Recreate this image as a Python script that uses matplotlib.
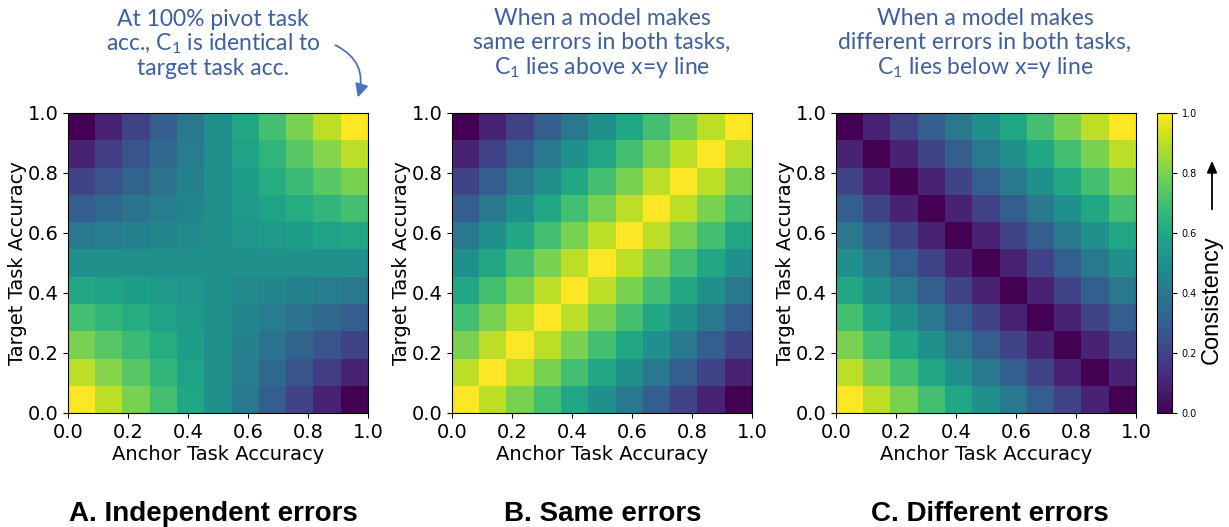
import matplotlib
matplotlib.use("Agg")
import matplotlib.pyplot as plt
import numpy as np

plt.rcParams['mathtext.fontset'] = 'custom'
plt.rcParams['mathtext.rm'] = 'Lato'
plt.rcParams['mathtext.it'] = 'Lato'

# rows: target task accuracy 0.0 -> 1.0, columns: anchor task accuracy 0.0 -> 1.0
independent = [
    [1.00, 0.90, 0.80, 0.70, 0.60, 0.50, 0.40, 0.30, 0.20, 0.10, 0.00],
    [0.90, 0.82, 0.74, 0.66, 0.58, 0.50, 0.42, 0.34, 0.26, 0.18, 0.10],
    [0.80, 0.74, 0.68, 0.62, 0.56, 0.50, 0.44, 0.38, 0.32, 0.26, 0.20],
    [0.70, 0.66, 0.62, 0.58, 0.54, 0.50, 0.46, 0.42, 0.38, 0.34, 0.30],
    [0.60, 0.58, 0.56, 0.54, 0.52, 0.50, 0.48, 0.46, 0.44, 0.42, 0.40],
    [0.50, 0.50, 0.50, 0.50, 0.50, 0.50, 0.50, 0.50, 0.50, 0.50, 0.50],
    [0.40, 0.42, 0.44, 0.46, 0.48, 0.50, 0.52, 0.54, 0.56, 0.58, 0.60],
    [0.30, 0.34, 0.38, 0.42, 0.46, 0.50, 0.54, 0.58, 0.62, 0.66, 0.70],
    [0.20, 0.26, 0.32, 0.38, 0.44, 0.50, 0.56, 0.62, 0.68, 0.74, 0.80],
    [0.10, 0.18, 0.26, 0.34, 0.42, 0.50, 0.58, 0.66, 0.74, 0.82, 0.90],
    [0.00, 0.10, 0.20, 0.30, 0.40, 0.50, 0.60, 0.70, 0.80, 0.90, 1.00],
]

same = [
    [1.0, 0.9, 0.8, 0.7, 0.6, 0.5, 0.4, 0.3, 0.2, 0.1, 0.0],
    [0.9, 1.0, 0.9, 0.8, 0.7, 0.6, 0.5, 0.4, 0.3, 0.2, 0.1],
    [0.8, 0.9, 1.0, 0.9, 0.8, 0.7, 0.6, 0.5, 0.4, 0.3, 0.2],
    [0.7, 0.8, 0.9, 1.0, 0.9, 0.8, 0.7, 0.6, 0.5, 0.4, 0.3],
    [0.6, 0.7, 0.8, 0.9, 1.0, 0.9, 0.8, 0.7, 0.6, 0.5, 0.4],
    [0.5, 0.6, 0.7, 0.8, 0.9, 1.0, 0.9, 0.8, 0.7, 0.6, 0.5],
    [0.4, 0.5, 0.6, 0.7, 0.8, 0.9, 1.0, 0.9, 0.8, 0.7, 0.6],
    [0.3, 0.4, 0.5, 0.6, 0.7, 0.8, 0.9, 1.0, 0.9, 0.8, 0.7],
    [0.2, 0.3, 0.4, 0.5, 0.6, 0.7, 0.8, 0.9, 1.0, 0.9, 0.8],
    [0.1, 0.2, 0.3, 0.4, 0.5, 0.6, 0.7, 0.8, 0.9, 1.0, 0.9],
    [0.0, 0.1, 0.2, 0.3, 0.4, 0.5, 0.6, 0.7, 0.8, 0.9, 1.0],
]

different = [
    [1.0, 0.9, 0.8, 0.7, 0.6, 0.5, 0.4, 0.3, 0.2, 0.1, 0.0],
    [0.9, 0.8, 0.7, 0.6, 0.5, 0.4, 0.3, 0.2, 0.1, 0.0, 0.1],
    [0.8, 0.7, 0.6, 0.5, 0.4, 0.3, 0.2, 0.1, 0.0, 0.1, 0.2],
    [0.7, 0.6, 0.5, 0.4, 0.3, 0.2, 0.1, 0.0, 0.1, 0.2, 0.3],
    [0.6, 0.5, 0.4, 0.3, 0.2, 0.1, 0.0, 0.1, 0.2, 0.3, 0.4],
    [0.5, 0.4, 0.3, 0.2, 0.1, 0.0, 0.1, 0.2, 0.3, 0.4, 0.5],
    [0.4, 0.3, 0.2, 0.1, 0.0, 0.1, 0.2, 0.3, 0.4, 0.5, 0.6],
    [0.3, 0.2, 0.1, 0.0, 0.1, 0.2, 0.3, 0.4, 0.5, 0.6, 0.7],
    [0.2, 0.1, 0.0, 0.1, 0.2, 0.3, 0.4, 0.5, 0.6, 0.7, 0.8],
    [0.1, 0.0, 0.1, 0.2, 0.3, 0.4, 0.5, 0.6, 0.7, 0.8, 0.9],
    [0.0, 0.1, 0.2, 0.3, 0.4, 0.5, 0.6, 0.7, 0.8, 0.9, 1.0],
]

notes = [
    "At 100% pivot task\nacc., C$_1$ is identical to\ntarget task acc.",
    "When a model makes\nsame errors in both tasks,\nC$_1$ lies above x=y line",
    "When a model makes\ndifferent errors in both tasks,\nC$_1$ lies below x=y line",
]
titles = ["A. Independent errors", "B. Same errors", "C. Different errors"]
ticks = [0.0, 0.2, 0.4, 0.6, 0.8, 1.0]

W, H = 1229, 527
fig = plt.figure(figsize=(W / 100, H / 100), dpi=100)

lefts = [68, 452, 836]
note_x = [213, 602, 985]
title_x = [213, 603, 990]
blue = '#3d5fa6'

for k, data in enumerate([independent, same, different]):
    ax = fig.add_axes([lefts[k] / W, (H - 413) / H, 300 / W, 300 / H])
    im = ax.imshow(np.array(data), cmap='viridis', origin='lower',
                   extent=[0, 1, 0, 1], vmin=0, vmax=1, aspect='auto')
    ax.set_xticks(ticks)
    ax.set_yticks(ticks)
    ax.tick_params(labelsize=14)
    ax.set_xlabel('Anchor Task Accuracy', fontsize=14, labelpad=2)
    ax.set_ylabel('Target Task Accuracy', fontsize=14, labelpad=0)
    fig.text(note_x[k] / W, 1 - 44 / H, notes[k], ha='center', va='center',
             fontsize=16.5, color=blue, family='Lato', linespacing=1.12)
    fig.text(title_x[k] / W, 1 - 514 / H, titles[k], ha='center', va='center',
             fontsize=20, fontweight='bold', family='Liberation Sans')

# curved arrow pointing at the top-right corner of panel A
fig.add_artist(matplotlib.patches.FancyArrowPatch(
    (333 / W, 1 - 44 / H), (357 / W, 1 - 100 / H), transform=fig.transFigure,
    connectionstyle='arc3,rad=-0.45', arrowstyle='-|>,head_width=4,head_length=8',
    color='#4a72bd', lw=1.3))

cax = fig.add_axes([1157 / W, (H - 413) / H, 15 / W, 300 / H])
cb = fig.colorbar(im, cax=cax)
cb.set_ticks(ticks)
cb.ax.tick_params(labelsize=7)
fig.text(1212 / W, 1 - 300 / H, 'Consistency', rotation=90, ha='center',
         va='center', fontsize=17, family='Liberation Sans')
fig.add_artist(matplotlib.patches.FancyArrowPatch(
    (1212 / W, 1 - 212 / H), (1212 / W, 1 - 158 / H), transform=fig.transFigure,
    arrowstyle='-|>,head_width=3,head_length=7', color='black', lw=1.3))

fig.savefig('out.png', dpi=100)
